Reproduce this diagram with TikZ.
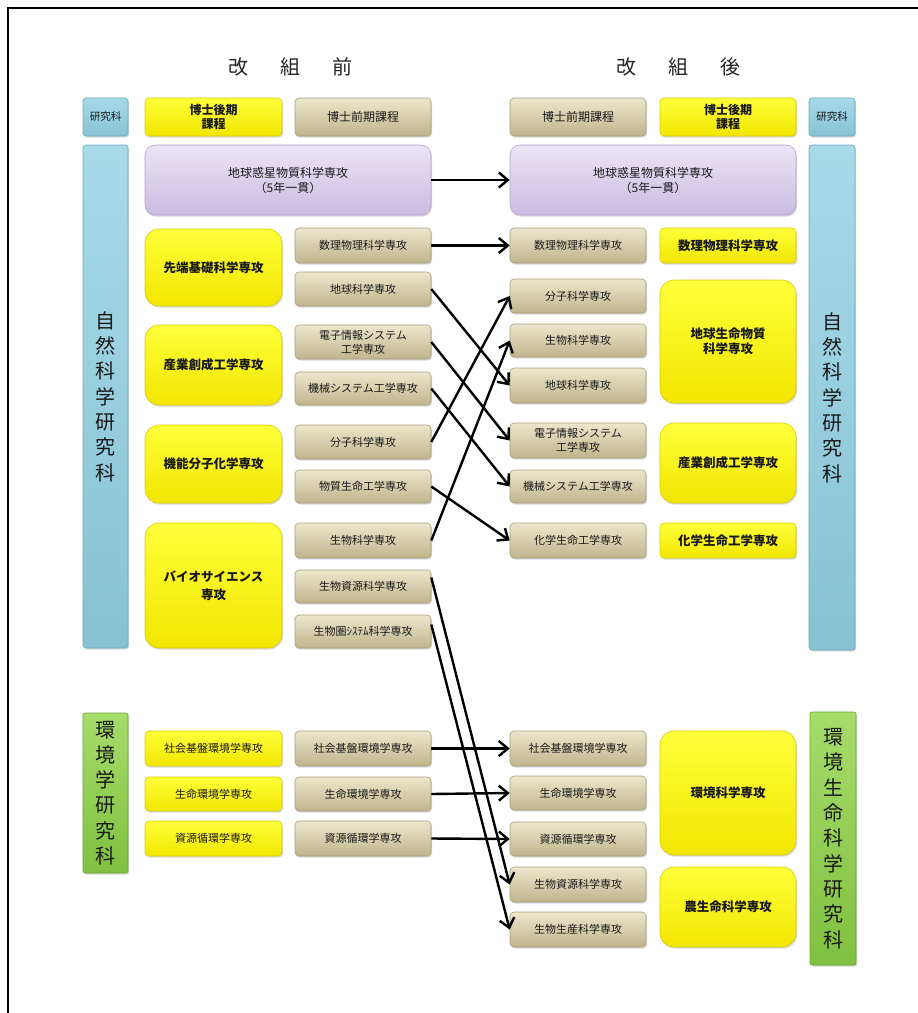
\documentclass[tikz,border=0pt]{standalone}
\usepackage{fontspec}
\setmainfont{Noto Sans CJK JP}
\usetikzlibrary{arrows.meta,shadows}
\definecolor{tanT}{HTML}{ECE6CC}
\definecolor{tanM}{HTML}{D9D0AA}
\definecolor{tanB}{HTML}{BFB58C}
\definecolor{tanD}{HTML}{A89E78}
\definecolor{yelT}{HTML}{FFFF3A}
\definecolor{yelM}{HTML}{FFFF00}
\definecolor{yelB}{HTML}{F2E600}
\definecolor{yelD}{HTML}{D8CC00}
\definecolor{purT}{HTML}{ECE4F6}
\definecolor{purM}{HTML}{DDD2EE}
\definecolor{purB}{HTML}{C9BCE0}
\definecolor{purD}{HTML}{B2A4CE}
\definecolor{bluT}{HTML}{A8DAE8}
\definecolor{bluM}{HTML}{95CEDF}
\definecolor{bluB}{HTML}{86C2D4}
\definecolor{bluD}{HTML}{6AA9BE}
\definecolor{grnT}{HTML}{A6DC6A}
\definecolor{grnM}{HTML}{92D050}
\definecolor{grnB}{HTML}{80C040}
\definecolor{grnD}{HTML}{68A530}
\tikzset{
  base/.style={rounded corners=4pt, inner sep=0pt, align=center, text=black!90, line width=0.6pt,
    drop shadow={shadow xshift=1pt,shadow yshift=-1.6pt,opacity=0.3}},
  tanbox/.style={base, draw=tanD, top color=tanT, middle color=tanM, bottom color=tanB,
    font=\fontsize{11}{14}\selectfont},
  yelbox/.style={base, draw=yelD, top color=yelT, middle color=yelM, bottom color=yelB,
    font=\bfseries\fontsize{12.5}{18}\selectfont},
  yelsmall/.style={yelbox, font=\fontsize{11}{14}\selectfont},
  yelbig/.style={yelbox, rounded corners=14pt},
  purbox/.style={base, rounded corners=10pt, draw=purD, top color=purT, middle color=purM, bottom color=purB,
    font=\fontsize{12}{15}\selectfont},
  blubox/.style={base, rounded corners=3pt, draw=bluD, top color=bluT, middle color=bluM, bottom color=bluB,
    font=\fontsize{20}{25.3}\selectfont},
  grnbox/.style={base, rounded corners=2pt, draw=grnD, top color=grnT, middle color=grnM, bottom color=grnB,
    font=\fontsize{20}{25.3}\selectfont},
  head/.style={font=\fontsize{20}{24}\selectfont, text=black!85, inner sep=0pt},
  arr/.style={line width=2.4pt, -{Straight Barb[length=9pt,width=15pt]}},
}
\newcommand\placebox[7]{\node[#2, minimum width=#5pt-#3pt, minimum height=#6pt-#4pt] (#1) at ({(#3+#5)/2},{(#4+#6)/2}) {#7};}
\begin{document}
\begin{tikzpicture}[x=1pt,y=-1pt]
\useasboundingbox (0,0) rectangle (918,1013);
\fill[white] (0,0) rectangle (918,1013);
\draw[line width=2.2pt] (8,1013) -- (8,8) -- (918,8);
% headings
\node[head] (hL) at (290,67) {改\hspace{32pt}組\hspace{32pt}前};
\node[head] (hR) at (678,67) {改\hspace{32pt}組\hspace{32pt}後};
% header row
\placebox{kL}{blubox, font=\fontsize{10.5}{12}\selectfont}{83}{98}{128}{136}{研究科}
\placebox{dL}{yelbox, font=\bfseries\fontsize{12}{14.5}\selectfont}{145}{98}{282}{136}{博士後期\\課程}
\placebox{mL}{tanbox, font=\fontsize{12}{14}\selectfont}{295}{98}{431}{136}{博士前期課程}
\placebox{mR}{tanbox, font=\fontsize{12}{14}\selectfont}{510}{98}{646}{136}{博士前期課程}
\placebox{dR}{yelbox, font=\bfseries\fontsize{12}{14.5}\selectfont}{660}{98}{796}{136}{博士後期\\課程}
\placebox{kR}{blubox, font=\fontsize{10.5}{12}\selectfont}{809}{98}{855}{136}{研究科}
% purple
\placebox{pL}{purbox}{145}{145}{431}{215}{地球惑星物質科学専攻\\（5年一貫）}
\placebox{pR}{purbox}{510}{145}{796}{215}{地球惑星物質科学専攻\\（5年一貫）}
% blue tall
\placebox{nL}{blubox}{83}{145}{128}{648}{自\\然\\科\\学\\研\\究\\科}
\placebox{nR}{blubox}{809}{145}{855}{650}{自\\然\\科\\学\\研\\究\\科}
% left yellow
\placebox{sentan}{yelbig}{145}{229}{282}{306}{先端基礎科学専攻}
\placebox{sangyo}{yelbig}{145}{325}{282}{405}{産業創成工学専攻}
\placebox{kinou}{yelbig}{145}{425}{282}{503}{機能分子化学専攻}
\placebox{bio}{yelbig}{145}{523}{282}{648}{バイオサイエンス\\専攻}
% left tan
\placebox{L1}{tanbox}{295}{228}{431}{263}{数理物理科学専攻}
\placebox{L2}{tanbox}{295}{272}{431}{306}{地球科学専攻}
\placebox{L3}{tanbox}{295}{325}{431}{359}{電子情報システム\\工学専攻}
\placebox{L4}{tanbox}{295}{372}{431}{405}{機械システム工学専攻}
\placebox{L5}{tanbox}{295}{425}{431}{459}{分子科学専攻}
\placebox{L6}{tanbox}{295}{470}{431}{503}{物質生命工学専攻}
\placebox{L7}{tanbox}{295}{523}{431}{558}{生物科学専攻}
\placebox{L8}{tanbox}{295}{570}{431}{603}{生物資源科学専攻}
\placebox{L9}{tanbox}{295}{615}{431}{648}{生物圏ｼｽﾃﾑ科学専攻}
% right tan
\placebox{R1}{tanbox}{510}{228}{646}{263}{数理物理科学専攻}
\placebox{R2}{tanbox}{510}{279}{646}{313}{分子科学専攻}
\placebox{R3}{tanbox}{510}{324}{646}{357}{生物科学専攻}
\placebox{R4}{tanbox}{510}{368}{646}{403}{地球科学専攻}
\placebox{R5}{tanbox}{510}{423}{646}{458}{電子情報システム\\工学専攻}
\placebox{R6}{tanbox}{510}{470}{646}{503}{機械システム工学専攻}
\placebox{R7}{tanbox}{510}{523}{646}{558}{化学生命工学専攻}
% right yellow
\placebox{Y1}{yelbox}{660}{228}{796}{263}{数理物理科学専攻}
\placebox{Y2}{yelbig, font=\bfseries\fontsize{12.5}{15}\selectfont}{660}{280}{796}{403}{地球生命物質\\科学専攻}
\placebox{Y3}{yelbig}{660}{423}{796}{503}{産業創成工学専攻}
\placebox{Y4}{yelbox}{660}{523}{796}{558}{化学生命工学専攻}
% environment
\placebox{gL}{grnbox}{83}{713}{128}{873}{環\\境\\学\\研\\究\\科}
\placebox{EY1}{yelsmall}{145}{731}{282}{766}{社会基盤環境学専攻}
\placebox{EY2}{yelsmall}{145}{777}{282}{811}{生命環境学専攻}
\placebox{EY3}{yelsmall}{145}{821}{282}{856}{資源循環学専攻}
\placebox{EL1}{tanbox}{295}{731}{431}{766}{社会基盤環境学専攻}
\placebox{EL2}{tanbox}{295}{777}{431}{811}{生命環境学専攻}
\placebox{EL3}{tanbox}{295}{821}{431}{856}{資源循環学専攻}
\placebox{ER1}{tanbox}{510}{731}{646}{766}{社会基盤環境学専攻}
\placebox{ER2}{tanbox}{510}{776}{646}{810}{生命環境学専攻}
\placebox{ER3}{tanbox}{510}{822}{646}{856}{資源循環学専攻}
\placebox{ER4}{tanbox}{510}{867}{646}{902}{生物資源科学専攻}
\placebox{ER5}{tanbox}{510}{912}{646}{947}{生物生産科学専攻}
\placebox{EZ1}{yelbig}{660}{731}{796}{855}{環境科学専攻}
\placebox{EZ2}{yelbig}{660}{867}{796}{947}{農生命科学専攻}
\placebox{gR}{grnbox}{810}{712}{856}{965}{環\\境\\生\\命\\科\\学\\研\\究\\科}
% connectors
\draw[arr] (pL.east) -- (pR.west);
\draw[arr] (L1.east) -- (R1.west);
\draw[arr] (L2.east) -- (R4.west);
\draw[arr] (L3.east) -- (R5.west);
\draw[arr] (L4.east) -- (R6.west);
\draw[arr] (L5.east) -- (R2.west);
\draw[arr] (L6.east) -- (R7.west);
\draw[arr] (L7.east) -- (R3.west);
\draw[arr] ([yshift=9pt]L8.east) -- (ER4.west);
\draw[arr] ([yshift=7pt]L9.east) -- (ER5.west);
\draw[arr] (EL1.east) -- (ER1.west);
\draw[arr] (EL2.east) -- (ER2.west);
\draw[arr] (EL3.east) -- (ER3.west);
\end{tikzpicture}
\end{document}
